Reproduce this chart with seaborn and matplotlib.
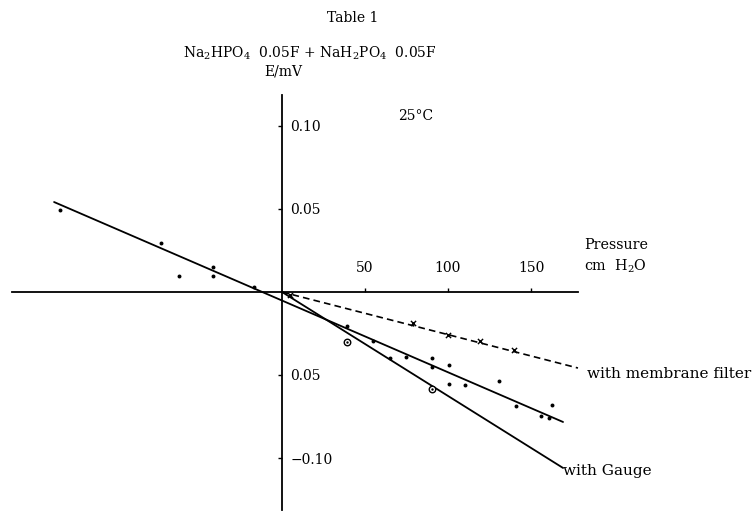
import matplotlib
matplotlib.use("Agg")
import matplotlib.pyplot as plt
import seaborn as sns

# straight fit lines, end points (cm H2O, E/mV)
fit_x = [-137.3, 169.3]
fit_y = [0.0542, -0.0783]
gauge_x = [0.0, 169.3]
gauge_y = [0.0, -0.106]
membrane_x = [0.0, 178.3]
membrane_y = [0.0, -0.0458]

# measured points
dot_x = [-134, -73, -62, -41.5, -41.5, -17,
         39, 54.6, 65, 74.7, 90.5, 90.2, 100.8, 100.6, 110, 131, 141, 162.5, 156, 161]
dot_y = [0.0494, 0.0295, 0.0096, 0.0150, 0.0096, 0.0030,
         -0.0205, -0.0293, -0.0400, -0.0393, -0.0400, -0.0454, -0.0440, -0.0556,
         -0.0560, -0.0534, -0.0687, -0.0680, -0.0747, -0.0757]
circle_x = [39, 90.5]
circle_y = [-0.0300, -0.0586]
cross_x = [5, 79, 100, 119, 140]
cross_y = [-0.0020, -0.0189, -0.0260, -0.0293, -0.0350]

xtick_values = [50, 100, 150]
xtick_labels = ["50", "100", "150"]
ytick_values = [0.10, 0.05, -0.05, -0.10]
ytick_labels = ["0.10", "0.05", "0.05", "\u22120.10"]

sns.set_theme(style="white")
plt.rcParams["font.family"] = ["DejaVu Serif"]
plt.rcParams["mathtext.fontset"] = "dejavuserif"

W, H = 755, 518
fig = plt.figure(figsize=(W / 100, H / 100), dpi=100)
ax = fig.add_axes([0, 0, 1, 1])
ax.set_facecolor("white")

# pixel scale of the scan: 50 cm -> 83 px, 0.05 -> 83 px, origin at (282, 292)
ox, oy, kx, ky = 282, 292, 1.66, 1660
ax.set_xlim(-ox / kx, (W - ox) / kx)
ax.set_ylim(-(H - oy) / ky, oy / ky)

for side in ["left", "bottom"]:
    ax.spines[side].set_visible(False)
ax.spines["top"].set_position(("data", 0))
ax.spines["right"].set_position(("data", 0))
ax.spines["top"].set_bounds(-162.7, 178.3)
ax.spines["right"].set_bounds(-0.1313, 0.1187)
for side in ["top", "right"]:
    ax.spines[side].set_color("black")
    ax.spines[side].set_linewidth(1.3)

ax.xaxis.tick_top()
ax.yaxis.tick_right()
ax.set_xticks(xtick_values, xtick_labels)
ax.set_yticks(ytick_values, ytick_labels)
ax.tick_params(axis="x", direction="out", length=3, width=1, pad=9, labelsize=10, colors="black")
ax.tick_params(axis="y", direction="in", length=3, width=1, pad=6, labelsize=10, colors="black")

sns.lineplot(x=fit_x, y=fit_y, ax=ax, color="black", linewidth=1.3)
sns.lineplot(x=gauge_x, y=gauge_y, ax=ax, color="black", linewidth=1.3)
sns.lineplot(x=membrane_x, y=membrane_y, ax=ax, color="black", linewidth=1.2,
             linestyle=(0, (4, 2.5)))

sns.scatterplot(x=dot_x, y=dot_y, ax=ax, color="black", s=8, linewidth=0, zorder=3)
sns.scatterplot(x=circle_x, y=circle_y, ax=ax, facecolor="white", edgecolor="black",
                s=22, linewidth=1, zorder=3)
sns.scatterplot(x=circle_x, y=circle_y, ax=ax, color="black", s=3, linewidth=0, zorder=4)
sns.scatterplot(x=cross_x, y=cross_y, ax=ax, color="black", marker="x", s=14,
                linewidth=1, zorder=3)


def put(text, x, y, ha="left", size=10):
    fig.text(x / W, 1 - y / H, text, ha=ha, va="center", fontsize=size, color="black")


put("Table 1", 353, 18, ha="center")
put("Na$_2$HPO$_4$  0.05F + NaH$_2$PO$_4$  0.05F", 310, 53, ha="center")
put("E/mV", 283, 72, ha="center")
put("25\u00b0C", 398, 116)
put("Pressure", 584, 245, size=10.3)
put("cm  H$_2$O", 584, 266, size=10.3)
put("with membrane filter", 587, 374, size=11)
put("with Gauge", 563, 471, size=11)

fig.savefig("out.png", dpi=100, facecolor="white")
